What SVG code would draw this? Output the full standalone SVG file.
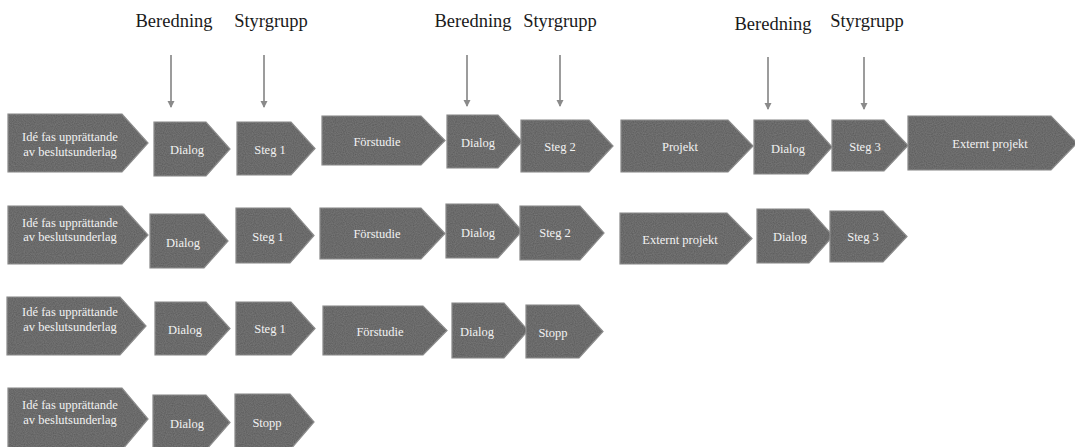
<svg xmlns="http://www.w3.org/2000/svg" width="1075" height="447" viewBox="0 0 1075 447">
<style>
.n{fill:#575757;stroke:#858585;stroke-width:1.2;filter:url(#grain)}
.t{font-family:"Liberation Serif","DejaVu Serif",serif;font-size:12.5px;fill:#f2f2f2;text-anchor:middle}
.h{font-family:"Liberation Serif","DejaVu Serif",serif;font-size:18.5px;fill:#1a1a1a;text-anchor:middle}
.c{stroke:#5a5a5a;stroke-width:1.2;fill:none;marker-end:url(#ah)}
</style>
<defs>
<filter id="grain" x="-5%" y="-5%" width="110%" height="110%">
<feTurbulence type="fractalNoise" baseFrequency="0.9" numOctaves="1" seed="3" result="noise"/>
<feColorMatrix in="noise" type="matrix" values="0 0 0 0 0.45  0 0 0 0 0.45  0 0 0 0 0.45  0 0 0 0.3 0" result="g"/>
<feComposite in="g" in2="SourceGraphic" operator="in" result="gi"/>
<feMerge><feMergeNode in="SourceGraphic"/><feMergeNode in="gi"/></feMerge>
</filter>
<marker id="ah" markerWidth="8" markerHeight="8" refX="6" refY="4" orient="auto" markerUnits="userSpaceOnUse">
<path d="M0,0.5 L7,4 L0,7.5 Z" fill="#8a8a8a"/>
</marker>
</defs>
<rect width="1075" height="447" fill="#ffffff"/>

<g id="headings">
<g id="h1"><text class="h" x="174" y="27">Beredning</text></g>
<g id="h2"><text class="h" x="271" y="27">Styrgrupp</text></g>
<g id="h3"><text class="h" x="473" y="27">Beredning</text></g>
<g id="h4"><text class="h" x="560" y="27">Styrgrupp</text></g>
<g id="h5"><text class="h" x="773" y="30">Beredning</text></g>
<g id="h6"><text class="h" x="867" y="27">Styrgrupp</text></g>
</g>

<g id="connectors">
<line class="c" x1="171" y1="55" x2="171" y2="107"/>
<line class="c" x1="264" y1="55" x2="264" y2="107"/>
<line class="c" x1="467" y1="55" x2="467" y2="106"/>
<line class="c" x1="560" y1="55" x2="560" y2="106"/>
<line class="c" x1="768" y1="57" x2="768" y2="109"/>
<line class="c" x1="864" y1="57" x2="864" y2="109"/>
</g>

<!-- Row 1 -->
<g id="r1n1"><path class="n" d="M8,114 H122 L148,143 L122,172 H8 Z"/><text class="t" x="70" y="141">Idé fas upprättande</text><text class="t" x="70" y="156">av beslutsunderlag</text></g>
<g id="r1n2"><path class="n" d="M154,122 H206 L230,149 L206,176 H154 Z"/><text class="t" x="187" y="154">Dialog</text></g>
<g id="r1n3"><path class="n" d="M237,122 H291 L315,148.5 L291,175 H237 Z"/><text class="t" x="270" y="154">Steg 1</text></g>
<g id="r1n4"><path class="n" d="M322,116 H421 L445,140.5 L421,165 H322 Z"/><text class="t" x="377" y="146">Förstudie</text></g>
<g id="r1n5"><path class="n" d="M447,115 H498 L522,141.5 L498,168 H447 Z"/><text class="t" x="478" y="147">Dialog</text></g>
<g id="r1n6"><path class="n" d="M521,120 H589 L613,146 L589,172 H521 Z"/><text class="t" x="560" y="151">Steg 2</text></g>
<g id="r1n7"><path class="n" d="M621,120 H728 L753,146 L728,172 H621 Z"/><text class="t" x="680" y="151">Projekt</text></g>
<g id="r1n8"><path class="n" d="M754,120 H808 L832,147 L808,174 H754 Z"/><text class="t" x="788" y="153">Dialog</text></g>
<g id="r1n9"><path class="n" d="M832,120 H884 L908,145.5 L884,171 H832 Z"/><text class="t" x="865" y="151">Steg 3</text></g>
<g id="r1n10"><path class="n" d="M908,116 H1051 L1077,143 L1051,170 H908 Z"/><text class="t" x="990" y="148">Externt projekt</text></g>

<!-- Row 2 -->
<g id="r2n1"><path class="n" d="M8,206 H122 L148,235 L122,264 H8 Z"/><text class="t" x="70" y="227">Idé fas upprättande</text><text class="t" x="70" y="241">av beslutsunderlag</text></g>
<g id="r2n2"><path class="n" d="M150,214 H204 L228,241 L204,268 H150 Z"/><text class="t" x="183" y="247">Dialog</text></g>
<g id="r2n3"><path class="n" d="M236,208 H290 L314,235.5 L290,263 H236 Z"/><text class="t" x="268" y="241">Steg 1</text></g>
<g id="r2n4"><path class="n" d="M320,208 H421 L445,233.5 L421,259 H320 Z"/><text class="t" x="377" y="238">Förstudie</text></g>
<g id="r2n5"><path class="n" d="M446,204 H498 L522,231 L498,258 H446 Z"/><text class="t" x="478" y="237">Dialog</text></g>
<g id="r2n6"><path class="n" d="M520,206 H580 L604,233 L580,260 H520 Z"/><text class="t" x="555" y="237">Steg 2</text></g>
<g id="r2n7"><path class="n" d="M620,213 H727 L752,238.5 L727,264 H620 Z"/><text class="t" x="680" y="244">Externt projekt</text></g>
<g id="r2n8"><path class="n" d="M757,209 H809 L833,236 L809,263 H757 Z"/><text class="t" x="790" y="241">Dialog</text></g>
<g id="r2n9"><path class="n" d="M830,211 H883 L907,236.5 L883,262 H830 Z"/><text class="t" x="863" y="241">Steg 3</text></g>

<!-- Row 3 -->
<g id="r3n1"><path class="n" d="M7,297 H120 L146,326 L120,355 H7 Z"/><text class="t" x="70" y="316">Idé fas upprättande</text><text class="t" x="70" y="331">av beslutsunderlag</text></g>
<g id="r3n2"><path class="n" d="M155,302 H206 L230,328.5 L206,355 H155 Z"/><text class="t" x="185" y="334">Dialog</text></g>
<g id="r3n3"><path class="n" d="M236,302 H291 L315,328.5 L291,355 H236 Z"/><text class="t" x="270" y="333">Steg 1</text></g>
<g id="r3n4"><path class="n" d="M323,306 H423 L447,330.5 L423,355 H323 Z"/><text class="t" x="380" y="336">Förstudie</text></g>
<g id="r3n5"><path class="n" d="M452,303 H504 L528,330.5 L504,358 H452 Z"/><text class="t" x="477" y="336">Dialog</text></g>
<g id="r3n6"><path class="n" d="M526,305 H579 L603,331.5 L579,358 H526 Z"/><text class="t" x="553" y="337">Stopp</text></g>

<!-- Row 4 -->
<g id="r4n1"><path class="n" d="M8,388 H122 L148,419 L122,450 H8 Z"/><text class="t" x="70" y="409">Idé fas upprättande</text><text class="t" x="70" y="424">av beslutsunderlag</text></g>
<g id="r4n2"><path class="n" d="M153,395 H206 L230,422.5 L206,450 H153 Z"/><text class="t" x="187" y="428">Dialog</text></g>
<g id="r4n3"><path class="n" d="M235,394 H290 L314,422 L290,450 H235 Z"/><text class="t" x="267" y="427">Stopp</text></g>
</svg>
